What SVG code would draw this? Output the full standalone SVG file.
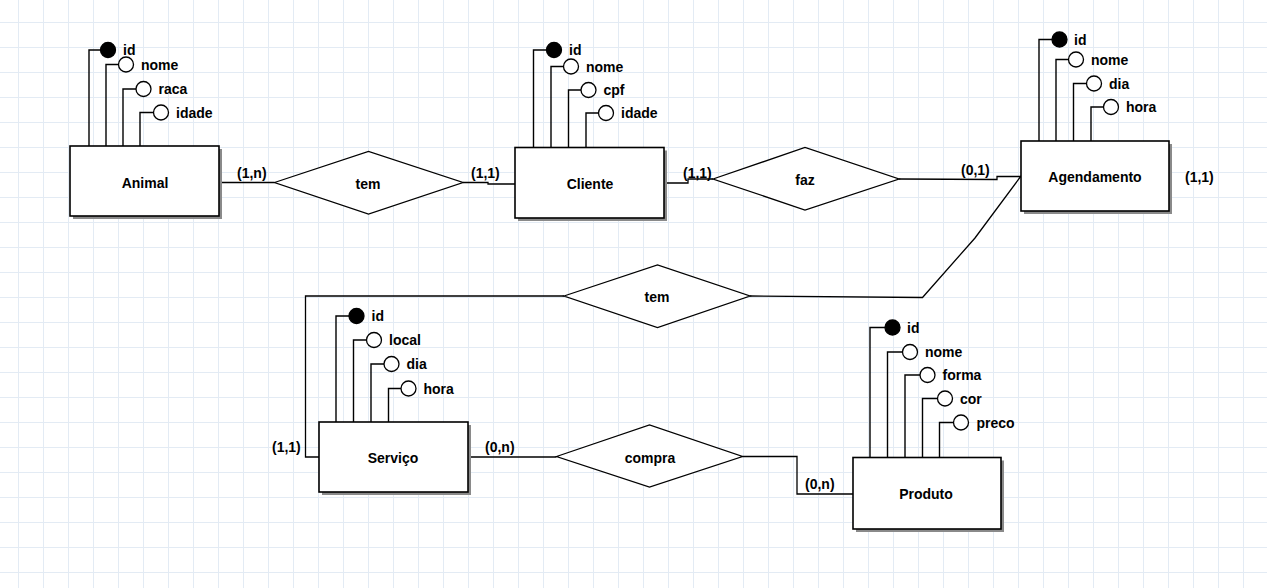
<svg xmlns="http://www.w3.org/2000/svg" width="1267" height="588" viewBox="0 0 1267 588">
<defs>
<pattern id="grid" patternUnits="userSpaceOnUse" x="18" y="22" width="25" height="25">
<path d="M0.5,0 V25 M0,0.5 H25" fill="none" stroke="#e3ebf4" stroke-width="1"/>
</pattern>
<style>
text{font-family:"Liberation Sans",Arial,sans-serif;font-weight:bold;font-size:14px;fill:#000}
.c{text-anchor:middle}
.ent{fill:#fff;stroke:#000;stroke-width:1.6}
.sh{fill:#8a8a8a}
.rel{fill:#fff;stroke:#000;stroke-width:1.3}
.al{fill:none;stroke:#000;stroke-width:1.4}
.ao{fill:#fff;stroke:#000;stroke-width:1.3}
.ak{fill:#000;stroke:#000;stroke-width:1.3}
.cn{fill:none;stroke:#000;stroke-width:1.3}
</style>
</defs>
<rect width="1267" height="588" fill="#fff"/>
<rect width="1267" height="588" fill="url(#grid)"/>

<g id="connectors">
<path class="cn" d="M219,182.5 H274.5"/>
<path class="cn" d="M463,182.5 H488 V184 H515"/>
<path class="cn" d="M664,183 H688 V179 H713"/>
<path class="cn" d="M899,179 L997,179.5 V176.5 H1021"/>
<path class="cn" d="M1021,176 L975,238 L922.5,297.5 L750,296"/>
<path class="cn" d="M564,296 H305.5 V457 H319"/>
<path class="cn" d="M468,457 H556.5"/>
<path class="cn" d="M742.5,456.5 H797 V494 H853"/>
<text x="237" y="178">(1,n)</text>
<text x="471" y="178">(1,1)</text>
<text x="683" y="178">(1,1)</text>
<text x="961" y="175">(0,1)</text>
<text x="1185" y="182">(1,1)</text>
<text x="272" y="452">(1,1)</text>
<text x="485" y="452">(0,n)</text>
<text x="805" y="489">(0,n)</text>
</g>

<g id="Animal">
<path class="al" d="M89,146 V50 H100.5 M106,146 V64.5 H118.5 M123,146 V89 H136 M140,146 V112.5 H153.5"/>
<circle class="ak" cx="108" cy="50" r="7.5"/>
<circle class="ao" cx="126" cy="64.5" r="7.5"/>
<circle class="ao" cx="143.5" cy="89" r="7.5"/>
<circle class="ao" cx="161" cy="112.5" r="7.5"/>
<text x="123" y="55">id</text>
<text x="141" y="70">nome</text>
<text x="158.5" y="94">raca</text>
<text x="176" y="118">idade</text>
<rect class="sh" x="73" y="149" width="149" height="70"/>
<rect class="ent" x="70" y="146" width="149" height="70"/>
<text class="c" x="145" y="188">Animal</text>
</g>

<g id="Cliente">
<path class="al" d="M533.5,147.5 V50 H546.5 M551,147.5 V66.5 H563.5 M568.5,147.5 V90 H581 M586,147.5 V113 H598.5"/>
<circle class="ak" cx="554" cy="50" r="7.5"/>
<circle class="ao" cx="571" cy="66.5" r="7.5"/>
<circle class="ao" cx="588.5" cy="90" r="7.5"/>
<circle class="ao" cx="606" cy="113" r="7.5"/>
<text x="569" y="55">id</text>
<text x="586" y="72">nome</text>
<text x="603.5" y="95">cpf</text>
<text x="621" y="118">idade</text>
<rect class="sh" x="518" y="150.5" width="149" height="70.5"/>
<rect class="ent" x="515" y="147.5" width="149" height="70.5"/>
<text class="c" x="590" y="189">Cliente</text>
</g>

<g id="Agendamento">
<path class="al" d="M1039,141 V39.5 H1052 M1056,141 V59.5 H1068.5 M1073.5,141 V83.5 H1086.5 M1091,141 V107 H1103.5"/>
<circle class="ak" cx="1059.5" cy="39.5" r="7.5"/>
<circle class="ao" cx="1076" cy="59.5" r="7.5"/>
<circle class="ao" cx="1094" cy="83.5" r="7.5"/>
<circle class="ao" cx="1111" cy="107" r="7.5"/>
<text x="1074" y="44.5">id</text>
<text x="1091" y="64.5">nome</text>
<text x="1109" y="88.5">dia</text>
<text x="1126" y="112">hora</text>
<rect class="sh" x="1024" y="144" width="148" height="70"/>
<rect class="ent" x="1021" y="141" width="148" height="70"/>
<text class="c" x="1095" y="182">Agendamento</text>
</g>

<g id="Servico">
<path class="al" d="M336,422 V316 H349 M353.5,422 V340 H366.5 M371,422 V364 H384 M388.5,422 V388.5 H401"/>
<circle class="ak" cx="356.5" cy="316" r="7.5"/>
<circle class="ao" cx="374" cy="340" r="7.5"/>
<circle class="ao" cx="391.5" cy="364" r="7.5"/>
<circle class="ao" cx="408.5" cy="388.5" r="7.5"/>
<text x="371.5" y="321">id</text>
<text x="389" y="345">local</text>
<text x="406.5" y="369">dia</text>
<text x="423.5" y="393.5">hora</text>
<rect class="sh" x="322" y="425" width="149" height="70"/>
<rect class="ent" x="319" y="422" width="149" height="70"/>
<text class="c" x="393" y="463">Serviço</text>
</g>

<g id="Produto">
<path class="al" d="M870,457.5 V327.5 H885 M887.5,457.5 V352 H902.5 M905,457.5 V375 H920 M922.5,457.5 V398.5 H937.5 M939.5,457.5 V422.5 H953.5"/>
<circle class="ak" cx="892.5" cy="327.5" r="7.5"/>
<circle class="ao" cx="910" cy="352" r="7.5"/>
<circle class="ao" cx="927.5" cy="375" r="7.5"/>
<circle class="ao" cx="945" cy="398.5" r="7.5"/>
<circle class="ao" cx="961" cy="422.5" r="7.5"/>
<text x="907" y="332.5">id</text>
<text x="925" y="357">nome</text>
<text x="942.5" y="380">forma</text>
<text x="960" y="403.5">cor</text>
<text x="976.5" y="427.5">preco</text>
<rect class="sh" x="856" y="460.5" width="148" height="71.5"/>
<rect class="ent" x="853" y="457.5" width="148" height="71.5"/>
<text class="c" x="926" y="499">Produto</text>
</g>

<g id="tem1">
<polygon class="rel" points="274.5,182.5 368.5,151.5 463,182.5 368.5,214"/>
<text class="c" x="368" y="188.5">tem</text>
</g>

<g id="faz">
<polygon class="rel" points="713,179 805,147.5 899,179 805,210"/>
<text class="c" x="805" y="185">faz</text>
</g>

<g id="tem2">
<polygon class="rel" points="564,296 657.5,265 750,296 657.5,327.5"/>
<text class="c" x="657" y="302">tem</text>
</g>

<g id="compra">
<polygon class="rel" points="556.5,456.5 649.5,425 742.5,456.5 649.5,487"/>
<text class="c" x="650" y="462.5">compra</text>
</g>
</svg>
